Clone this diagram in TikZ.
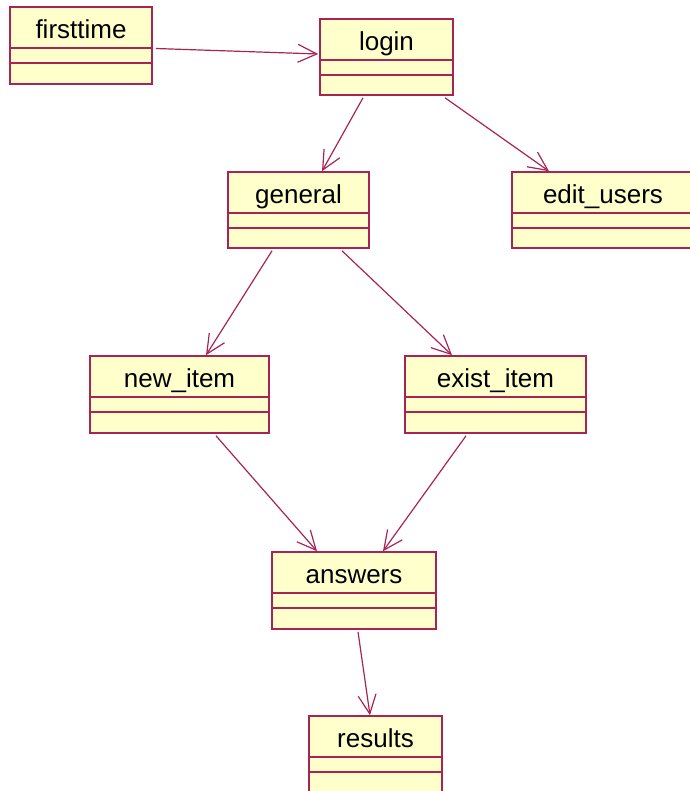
\documentclass[tikz,border=0pt]{standalone}
\usepackage{fontspec}
\setmainfont{Liberation Sans}
\usetikzlibrary{arrows.meta,fit,calc}

\definecolor{umlred}{RGB}{170,35,85}
\definecolor{umlfill}{RGB}{255,255,204}

\tikzset{
    classbox/.style={draw=umlred, fill=umlfill, line width=1.6pt, inner sep=0pt},
    classname/.style={anchor=base, inner sep=0pt, font=\fontsize{26}{26}\selectfont},
    classline/.style={umlred, line width=1.5pt},
    depends/.style={umlred, line width=1.2pt, -{Straight Barb[length=19pt, width=18pt, line width=1.2pt]}}
}

% caja de clase: nombre, izq, arriba, der, abajo, texto
\newcommand{\umlclass}[6]{%
    \node[classbox, fit={(#2,#3) (#4,#5)}] (#1) {};
    \node[classname] (#1-name) at ($(#1.north)+(0,32)$) {#6};
    \draw[classline] ([yshift=-42pt]#1.north west) -- ([yshift=-42pt]#1.north east);
    \draw[classline] ([yshift=-57pt]#1.north west) -- ([yshift=-57pt]#1.north east);
}

\begin{document}
\begin{tikzpicture}[x=1pt, y=-1pt]
    \useasboundingbox (0,0) rectangle (689,791);

    % Clases
    \umlclass{firsttime}{10}{7}{152}{84}{firsttime}
    \umlclass{login}{320}{19}{453}{95}{login}
    \umlclass{general}{228}{172}{369}{248}{general}
    \umlclass{editusers}{512}{172}{694}{248}{edit\_users}
    \umlclass{newitem}{90}{356}{269}{433}{new\_item}
    \umlclass{existitem}{405}{356}{586}{433}{exist\_item}
    \umlclass{answers}{272}{552}{436}{629}{answers}
    \umlclass{results}{309}{716}{442}{797}{results}

    % Dependencias
    \draw[depends] ([shift={(3pt,-3pt)}]firsttime.east) -- ([shift={(-1pt,3pt)}]login.west);
    \draw[depends] ([shift={(-23.5pt,-2pt)}]login.south) -- ([xshift=23.5pt]general.north);
    \draw[depends] ([shift={(58.5pt,-2pt)}]login.south) -- ([xshift=-54pt]editusers.north);
    \draw[depends] ([shift={(-26.5pt,-2pt)}]general.south) -- ([xshift=26.5pt]newitem.north);
    \draw[depends] ([shift={(43.5pt,-2pt)}]general.south) -- ([xshift=-43.5pt]existitem.north);
    \draw[depends] ([shift={(36.5pt,-2pt)}]newitem.south) -- ([xshift=-37pt]answers.north);
    \draw[depends] ([shift={(-29.5pt,-2pt)}]existitem.south) -- ([xshift=29pt]answers.north);
    \draw[depends] ([shift={(4pt,-2pt)}]answers.south) -- ([xshift=-5.5pt]results.north);

\end{tikzpicture}
\end{document}
